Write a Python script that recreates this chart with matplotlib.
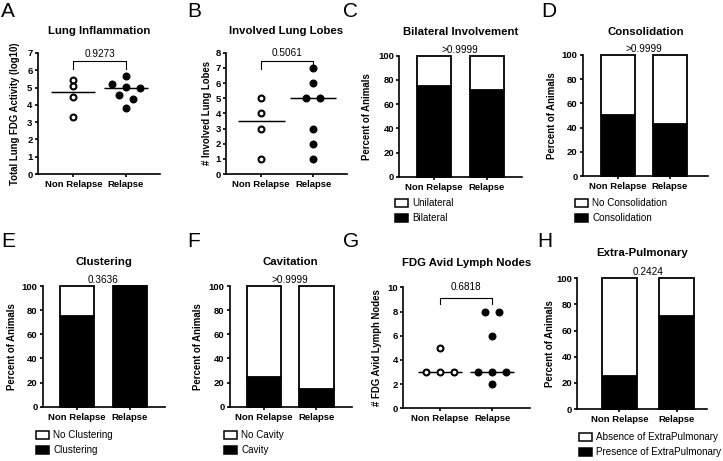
import numpy as np
import matplotlib
matplotlib.use('Agg')
import matplotlib.pyplot as plt
from matplotlib.patches import Patch

plt.rcParams['font.family'] = ['Liberation Sans', 'DejaVu Sans']

W, H = 723, 461

groups = ['Non Relapse', 'Relapse']

# ---- scatter panels (A, B, G) ----
lung_fdg_nonrelapse = [5.45, 5.07, 4.43, 3.28]
lung_fdg_relapse = [5.68, 5.22, 4.99, 5.03, 4.57, 4.32, 3.83]
lung_fdg_p = '0.9273'

lobes_nonrelapse = [5, 4, 3, 1]
lobes_relapse = [7, 6, 5, 5, 3, 2, 1]
lobes_p = '0.5061'

lymph_nonrelapse = [5, 3, 3, 3]
lymph_relapse = [8, 8, 6, 3, 3, 3, 2]
lymph_p = '0.6818'

# ---- stacked percent panels (C, D, E, F, H) ----
bilateral_pct = [75.0, 71.4]
consolidation_pct = [50.0, 42.9]
clustering_pct = [75.0, 100.0]
cavity_pct = [25.0, 14.3]
extrapulm_pct = [25.0, 71.4]

bilateral_p = '>0.9999'
consolidation_p = '>0.9999'
clustering_p = '0.3636'
cavity_p = '>0.9999'
extrapulm_p = '0.2424'

fig = plt.figure(figsize=(W / 100, H / 100), dpi=100)
fig.patch.set_facecolor('white')

TICK_FS = 6.8
TITLE_FS = 8.2
YLAB_FS = 6.9
P_FS = 7.2
LEG_FS = 7.1
SPINE_LW = 1.2


def make_ax(l, r, t, b, xlim, ylim, yticks):
    ax = fig.add_axes([l / W, 1 - b / H, (r - l) / W, (b - t) / H])
    ax.set_xlim(*xlim)
    ax.set_ylim(*ylim)
    for s in ('top', 'right'):
        ax.spines[s].set_visible(False)
    for s in ('left', 'bottom'):
        ax.spines[s].set_linewidth(SPINE_LW)
    ax.set_yticks(yticks)
    ax.set_xticks([0, 1])
    ax.set_xticklabels(groups)
    ax.tick_params(axis='y', length=2.4, width=SPINE_LW, pad=1.2, labelsize=TICK_FS)
    ax.tick_params(axis='x', length=2.4, width=SPINE_LW, pad=2.0, labelsize=TICK_FS)
    for lab in ax.get_xticklabels() + ax.get_yticklabels():
        lab.set_fontweight('bold')
    ax.patch.set_alpha(0)
    return ax


def title(ax, text, y_px):
    bb = ax.get_position()
    fig.text((bb.x0 + bb.x1) / 2, 1 - y_px / H, text, ha='center', va='center',
             fontsize=TITLE_FS, fontweight='bold')


def ylabel(ax, text, x_px):
    bb = ax.get_position()
    fig.text(x_px / W, (bb.y0 + bb.y1) / 2, text, rotation=90, ha='center',
             va='center', fontsize=YLAB_FS, fontweight='bold')


def letter(text, x_px, y_px):
    fig.text(x_px / W, 1 - y_px / H, text, ha='left', va='center', fontsize=15)


def swarm_offsets(ax, vals, thresh_px=6.0, step_px=14.3):
    vals = np.asarray(vals, dtype=float)
    p0 = ax.transData.transform((0, 0))
    p1 = ax.transData.transform((1, 1))
    sx = p1[0] - p0[0]
    sy = p1[1] - p0[1]
    order = np.argsort(-vals, kind='stable')
    rows = []
    for i in order:
        if rows and (vals[rows[-1][0]] - vals[i]) * sy < thresh_px:
            rows[-1].append(i)
        else:
            rows.append([i])
    offs = np.zeros(len(vals))
    for r in rows:
        n = len(r)
        for k, i in enumerate(r):
            offs[i] = (k - (n - 1) / 2) * step_px / sx
    return offs


def scatter_panel(ax, nr, rl, bracket, ptxt, half=0.42):
    for gi, (vals, fc) in enumerate([(nr, 'white'), (rl, 'black')]):
        offs = swarm_offsets(ax, vals)
        ax.scatter(gi + offs, vals, s=18, facecolor=fc, edgecolor='black',
                   linewidths=1.5, zorder=3, clip_on=False)
        med = np.median(vals)
        ax.plot([gi - half, gi + half], [med, med], color='black', lw=1.05,
                zorder=2, solid_capstyle='butt')
    lo, hi, ty = bracket
    ax.plot([0, 0, 1, 1], [lo, hi, hi, lo], color='black', lw=0.8,
            clip_on=False)
    ax.text(0.5, ty, ptxt, ha='center', va='center', fontsize=P_FS)


def bar_panel(ax, pct, top_label, bottom_label, ptxt, width, leg_left, leg_top):
    x = np.arange(len(groups))
    pct = np.asarray(pct)
    rest = 100 - pct
    ax.bar(x, pct, width=width, color='black', edgecolor='black',
           linewidth=1.3, clip_on=False, zorder=2)
    ax.bar(x, rest, bottom=pct, width=width, color='white',
           edgecolor='black', linewidth=1.3, clip_on=False, zorder=2)
    ax.text(0.5, 105, ptxt, ha='center', va='center', fontsize=P_FS)
    handles = [Patch(facecolor='white', edgecolor='black', linewidth=1.1),
               Patch(facecolor='black', edgecolor='black', linewidth=1.1)]
    ax.legend(handles, [top_label, bottom_label], loc='upper left',
              bbox_to_anchor=(leg_left / W, 1 - leg_top / H),
              bbox_transform=fig.transFigure, frameon=False, fontsize=LEG_FS,
              borderpad=0, borderaxespad=0, handlelength=1.3,
              handleheight=0.9, handletextpad=0.45, labelspacing=0.5)


# ---------------- A ----------------
axA = make_ax(37.5, 160, 53, 174, (-0.68, 1.65), (0, 7), range(0, 8))
scatter_panel(axA, lung_fdg_nonrelapse, lung_fdg_relapse, (6.09, 6.51, 6.95), lung_fdg_p)
title(axA, 'Lung Inflammation', 31)
ylabel(axA, 'Total Lung FDG Activity (log10)', 15)
letter('A', 1, 11.5)

# ---------------- B ----------------
axB = make_ax(226, 346.7, 52.7, 174, (-0.68, 1.65), (0, 8), range(0, 9))
scatter_panel(axB, lobes_nonrelapse, lobes_relapse, (6.92, 7.45, 7.96), lobes_p, half=0.45)
title(axB, 'Involved Lung Lobes', 31)
ylabel(axB, '# Involved Lung Lobes', 206.7)
letter('B', 187, 11.5)

# ---------------- C ----------------
axC = make_ax(399, 521.7, 55.7, 176.7, (-0.66, 1.66), (0, 100), range(0, 101, 20))
bar_panel(axC, bilateral_pct, 'Unilateral', 'Bilateral', bilateral_p, 0.64, 395, 198.4)
title(axC, 'Bilateral Involvement', 32)
ylabel(axC, 'Percent of Animals', 367.3)
letter('C', 343, 11.5)

# ---------------- D ----------------
axD = make_ax(582.7, 708, 55, 176, (-0.68, 1.74), (0, 100), range(0, 101, 20))
bar_panel(axD, consolidation_pct, 'No Consolidation', 'Consolidation', consolidation_p, 0.655, 575, 198.4)
title(axD, 'Consolidation', 32.3)
ylabel(axD, 'Percent of Animals', 551.7)
letter('D', 541, 11.5)

# ---------------- E ----------------
axE = make_ax(42.5, 165, 286, 406.7, (-0.65, 1.67), (0, 100), range(0, 101, 20))
bar_panel(axE, clustering_pct, 'No Clustering', 'Clustering', clustering_p, 0.64, 36, 430.1)
title(axE, 'Clustering', 262)
ylabel(axE, 'Percent of Animals', 11.7)
letter('E', 1, 241.5)

# ---------------- F ----------------
axF = make_ax(229.5, 351.7, 286, 406.7, (-0.65, 1.67), (0, 100), range(0, 101, 20))
bar_panel(axF, cavity_pct, 'No Cavity', 'Cavity', cavity_p, 0.65, 224, 430.1)
title(axF, 'Cavitation', 262)
ylabel(axF, 'Percent of Animals', 198.3)
letter('F', 187, 241.5)

# ---------------- G ----------------
axG = make_ax(403.3, 530, 287.3, 408.3, (-0.71, 1.73), (0, 10), range(0, 11, 2))
scatter_panel(axG, lymph_nonrelapse, lymph_relapse, (8.62, 9.09, 10.0), lymph_p)
title(axG, 'FDG Avid Lymph Nodes', 263)
ylabel(axG, '# FDG Avid Lymph Nodes', 376.7)
letter('G', 343, 241.5)

# ---------------- H ----------------
axH = make_ax(577.3, 706.7, 278.3, 409, (-0.73, 1.52), (0, 100), range(0, 101, 20))
bar_panel(axH, extrapulm_pct, 'Absence of ExtraPulmonary', 'Presence of ExtraPulmonary',
          extrapulm_p, 0.61, 579, 432.4)
title(axH, 'Extra-Pulmonary', 253.3)
ylabel(axH, 'Percent of Animals', 550)
letter('H', 537, 241.5)

fig.savefig('out.png', dpi=100, facecolor='white')
